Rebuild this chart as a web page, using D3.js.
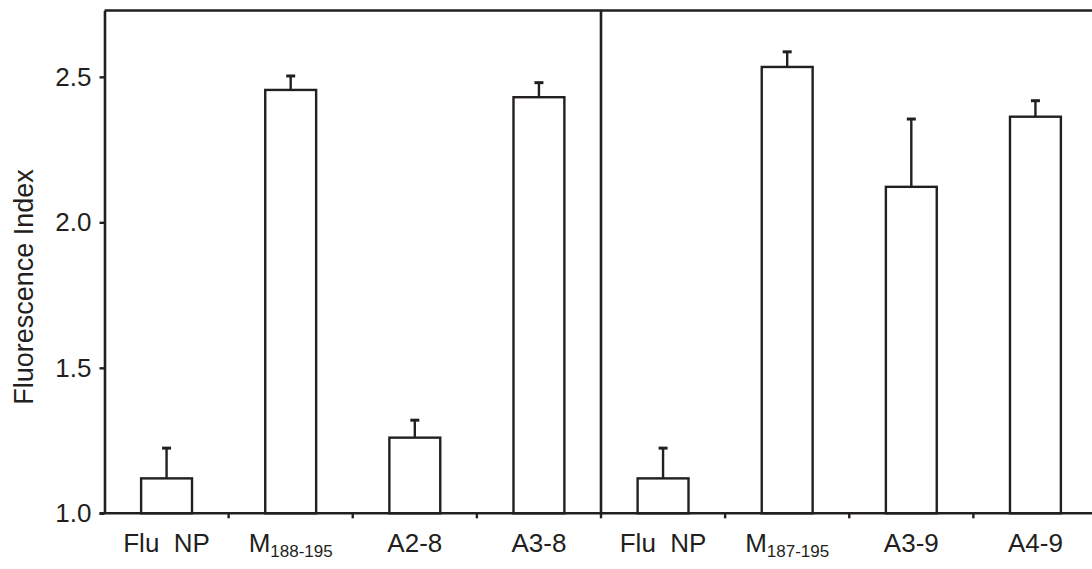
<!DOCTYPE html>
<html>
<head>
<meta charset="utf-8">
<script src="https://cdn.jsdelivr.net/npm/d3@7"></script>
<style>
  body { margin: 0; background: #fff; }
  text { font-family: "Liberation Sans", Arial, sans-serif; fill: #231f20; }
</style>
</head>
<body>
<div></div>
<script>
const w = 1092;
const h = 569;
const ink = "#231f20";

// data
const ids = ["flu1", "m188", "a28", "a38", "flu2", "m187", "a39", "a49"];
const labelMain = ["Flu  NP", "M", "A2-8", "A3-8", "Flu  NP", "M", "A3-9", "A4-9"];
const labelSub = ["", "188-195", "", "", "", "187-195", "", ""];
const values = [1.12, 2.455, 1.26, 2.43, 1.12, 2.534, 2.122, 2.363];
const errors = [0.104, 0.048, 0.06, 0.05, 0.104, 0.052, 0.233, 0.055];
const yTicks = [1.0, 1.5, 2.0, 2.5];

const plotL = 104.5;
const plotR = 1097.5;
const plotT = 10.5;
const plotB = 513.3;

const svg = d3.select("div").append("svg").attr("width", w).attr("height", h);

const x = d3.scaleBand().domain(ids).range([plotL, plotR]).padding(0);
const y = d3.scaleLinear().domain([1, 2.728]).range([plotB, plotT]);
const barW = x.bandwidth() * 0.41;

// bars
svg
  .selectAll("rect.bar")
  .data(ids)
  .enter()
  .append("rect")
  .attr("class", "bar")
  .attr("x", (d) => x(d) + x.bandwidth() / 2 - barW / 2)
  .attr("y", (d, i) => y(values[i]))
  .attr("width", barW)
  .attr("height", (d, i) => y(1) - y(values[i]))
  .attr("fill", "none")
  .attr("stroke", ink)
  .attr("stroke-width", 2.4);

// error bars (upper only)
const eb = svg.selectAll("g.err").data(ids).enter().append("g").attr("class", "err");
eb.append("line")
  .attr("x1", (d) => x(d) + x.bandwidth() / 2)
  .attr("x2", (d) => x(d) + x.bandwidth() / 2)
  .attr("y1", (d, i) => y(values[i]))
  .attr("y2", (d, i) => y(values[i] + errors[i]))
  .attr("stroke", ink)
  .attr("stroke-width", 2.4);
eb.append("line")
  .attr("x1", (d) => x(d) + x.bandwidth() / 2 - 4.5)
  .attr("x2", (d) => x(d) + x.bandwidth() / 2 + 4.5)
  .attr("y1", (d, i) => y(values[i] + errors[i]))
  .attr("y2", (d, i) => y(values[i] + errors[i]))
  .attr("stroke", ink)
  .attr("stroke-width", 3);

// frame
svg.append("line").attr("x1", plotL).attr("x2", plotR).attr("y1", plotT).attr("y2", plotT)
  .attr("stroke", ink).attr("stroke-width", 2.6);
svg.append("line").attr("x1", plotR).attr("x2", plotR).attr("y1", plotT).attr("y2", plotB)
  .attr("stroke", ink).attr("stroke-width", 2.6);
// divider between the two groups
svg.append("line")
  .attr("x1", x("flu2")).attr("x2", x("flu2"))
  .attr("y1", plotT).attr("y2", plotB)
  .attr("stroke", ink).attr("stroke-width", 2.6);

// y axis
const yAxis = d3.axisLeft(y).tickValues(yTicks).tickFormat(d3.format(".1f"))
  .tickSize(5).tickSizeOuter(0).tickPadding(8);
const gy = svg.append("g").attr("transform", "translate(" + plotL + ",0)").call(yAxis);
gy.select(".domain").attr("stroke", ink).attr("stroke-width", 2.6);
gy.selectAll(".tick line").attr("stroke", ink).attr("stroke-width", 2.4);
gy.selectAll(".tick text").attr("font-size", 26).attr("fill", ink)
  .style("font-family", "Liberation Sans, Arial, sans-serif");

// x axis: line with ticks at the category boundaries
svg.append("line").attr("x1", plotL - 5).attr("x2", plotR).attr("y1", plotB).attr("y2", plotB)
  .attr("stroke", ink).attr("stroke-width", 2.6);
const bounds = ids.slice(1).map((d) => x(d));
svg.selectAll("line.xt").data(bounds).enter().append("line").attr("class", "xt")
  .attr("x1", (d) => d).attr("x2", (d) => d)
  .attr("y1", plotB).attr("y2", plotB + 5)
  .attr("stroke", ink).attr("stroke-width", 2.4);

const xl = svg.selectAll("text.xl").data(ids).enter().append("text").attr("class", "xl")
  .attr("x", (d) => x(d) + x.bandwidth() / 2)
  .attr("y", plotB + 38.5)
  .attr("text-anchor", "middle")
  .attr("font-size", 26)
  .style("white-space", "pre");
xl.append("tspan").text((d, i) => labelMain[i]);
xl.append("tspan").attr("font-size", 17).attr("dy", 5.6).text((d, i) => labelSub[i]);

// y label
svg.append("text")
  .attr("transform", "translate(33,287) rotate(-90)")
  .attr("text-anchor", "middle")
  .attr("font-size", 27)
  .text("Fluorescence Index");
</script>
</body>
</html>
